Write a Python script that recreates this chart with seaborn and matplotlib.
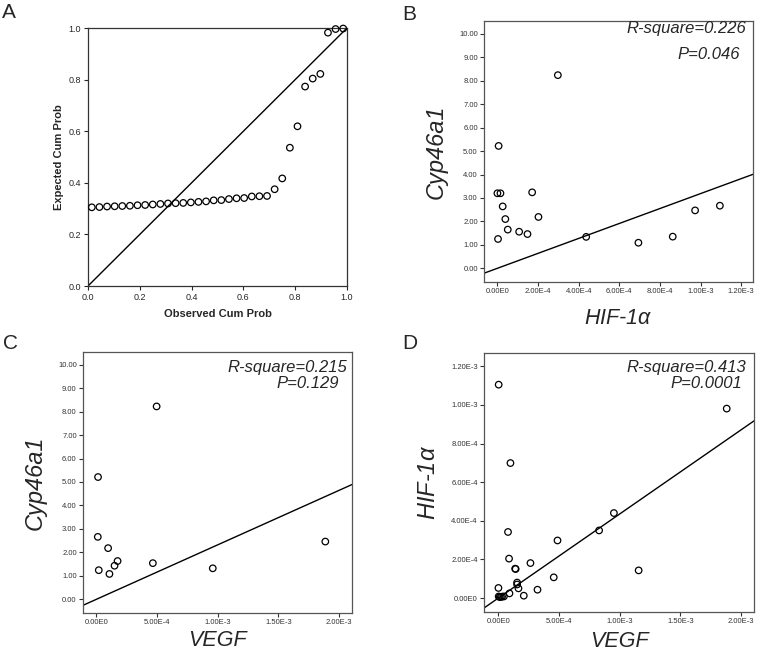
import numpy as np
import matplotlib
matplotlib.use("Agg")
import matplotlib.pyplot as plt
import seaborn as sns

sns.set_style("white")
plt.rcParams["font.family"] = ["Liberation Sans", "DejaVu Sans"]
plt.rcParams["mathtext.fontset"] = "custom"
plt.rcParams["mathtext.it"] = "Liberation Sans:italic"

# ---------------------------------------------------------------- data
# A: P-P plot
pp_expected = [0.305, 0.306, 0.308, 0.309, 0.310, 0.311, 0.313, 0.314, 0.316, 0.318,
               0.320, 0.321, 0.322, 0.324, 0.326, 0.328, 0.332, 0.333, 0.337, 0.340,
               0.341, 0.347, 0.348, 0.349, 0.375, 0.417, 0.536, 0.619, 0.773, 0.804,
               0.822, 0.982, 0.996, 0.998]
pp_observed = (np.arange(len(pp_expected)) + 0.5) / len(pp_expected)

# B: HIF-1a vs Cyp46a1
b_hif = [2.975e-4, 0.06e-4, 0.0, 0.15e-4, 1.71e-4, 0.26e-4, 0.39e-4, 2.02e-4, 0.51e-4,
         1.07e-4, 1.48e-4, 0.03e-4, 4.37e-4, 6.94e-4, 8.63e-4, 9.73e-4, 10.95e-4]
b_cyp = [8.24, 5.22, 3.20, 3.20, 3.24, 2.64, 2.10, 2.19, 1.65,
         1.56, 1.46, 1.25, 1.34, 1.09, 1.35, 2.47, 2.67]

# C: VEGF vs Cyp46a1
c_vegf = [0.13e-4, 0.11e-4, 0.96e-4, 0.19e-4, 1.07e-4, 1.49e-4, 1.74e-4, 4.65e-4,
          9.59e-4, 4.96e-4, 18.87e-4]
c_cyp = [5.21, 2.66, 2.18, 1.24, 1.08, 1.43, 1.63, 1.54, 1.32, 8.22, 2.46]

# D: VEGF vs HIF-1a
d_vegf = [0.02e-4, 18.82e-4, 0.99e-4, 9.52e-4, 0.79e-4, 8.30e-4, 4.87e-4, 0.875e-4,
          1.38e-4, 1.42e-4, 2.64e-4, 11.56e-4, 4.56e-4, 1.54e-4, 1.54e-4, 1.65e-4,
          3.22e-4, 0.0, 0.91e-4, 2.09e-4, 0.02e-4, 0.10e-4, 0.20e-4, 0.30e-4, 0.45e-4]
d_hif = [11.05e-4, 9.81e-4, 6.99e-4, 4.40e-4, 3.42e-4, 3.50e-4, 2.98e-4, 2.04e-4,
         1.52e-4, 1.50e-4, 1.81e-4, 1.43e-4, 1.07e-4, 0.80e-4, 0.70e-4, 0.50e-4,
         0.43e-4, 0.52e-4, 0.24e-4, 0.12e-4, 0.08e-4, 0.05e-4, 0.06e-4, 0.07e-4, 0.08e-4]

stats_b = ["R-square=0.226", "P=0.046"]
stats_c = ["R-square=0.215", "P=0.129"]
stats_d = ["R-square=0.413", "P=0.0001"]

cyp_ticks = list(range(0, 11))
cyp_labels = ["%.2f" % v for v in cyp_ticks]
hif_ticks = [0, 2e-4, 4e-4, 6e-4, 8e-4, 1e-3, 1.2e-3]
hif_labels = ["0.00E0", "2.00E-4", "4.00E-4", "6.00E-4", "8.00E-4", "1.00E-3", "1.20E-3"]
vegf_ticks = [0, 5e-4, 1e-3, 1.5e-3, 2e-3]
vegf_labels = ["0.00E0", "5.00E-4", "1.00E-3", "1.50E-3", "2.00E-3"]
pp_ticks = [0, 0.2, 0.4, 0.6, 0.8, 1.0]
pp_labels = ["0.0", "0.2", "0.4", "0.6", "0.8", "1.0"]

# ---------------------------------------------------------------- figure
W, H = 757, 654
fig = plt.figure(figsize=(W / 100, H / 100), dpi=100)


def box(l, r, t, b):
    return [l / W, 1 - b / H, (r - l) / W, (b - t) / H]


def open_dots(ax, x, y, **kw):
    sns.scatterplot(x=x, y=y, ax=ax, marker="o", s=22, facecolor="none",
                    edgecolor="black", linewidth=0.9, **kw)


def fit_panel(ax, x, y, xlim, ylim, xt, xl, yt, yl, xlabel, ylabel, stats, spos, xpad):
    x = np.array(x)
    y = np.array(y)
    open_dots(ax, x, y)
    ax.set_xlim(xlim)
    ax.set_ylim(ylim)
    # SPSS fit line through origin
    slope = np.dot(x, y) / np.dot(x, x)
    xx = np.array(xlim)
    sns.lineplot(x=xx, y=slope * xx, ax=ax, color="black", linewidth=1)
    ax.set_xticks(xt)
    ax.set_xticklabels(xl)
    ax.set_yticks(yt)
    ax.set_yticklabels(yl)
    ax.tick_params(axis="both", direction="out", length=3, width=0.8,
                   labelsize=5.5, pad=1.5, colors="#333333", left=True, bottom=True)
    for sp in ax.spines.values():
        sp.set_color("#555555")
        sp.set_linewidth(0.9)
    ax.set_xlabel(xlabel, fontsize=15.5, style="italic", labelpad=xpad)
    ax.set_ylabel(ylabel, fontsize=17, style="italic", labelpad=8)
    ax.text(spos[0], spos[1], stats[0], transform=ax.transAxes, ha="right",
            va="center", fontsize=12, style="italic")
    ax.text(spos[2], spos[3], stats[1], transform=ax.transAxes, ha="right",
            va="center", fontsize=12, style="italic")


# A
axA = fig.add_axes(box(88, 347, 28, 286))
sns.scatterplot(x=pp_observed, y=pp_expected, ax=axA, marker="o", s=22,
                facecolor="none", edgecolor="black", linewidth=0.9, clip_on=False, zorder=3)
lim = [0, 1]
sns.lineplot(x=lim, y=lim, ax=axA, color="black", linewidth=1)
axA.set_xlim(lim)
axA.set_ylim(lim)
axA.set_xticks(pp_ticks)
axA.set_xticklabels(pp_labels)
axA.set_yticks(pp_ticks)
axA.set_yticklabels(pp_labels)
axA.tick_params(axis="both", direction="out", length=3, width=0.8, labelsize=6.5,
                pad=2, left=True, bottom=True)
for sp in axA.spines.values():
    sp.set_color("#333333")
    sp.set_linewidth(0.9)
axA.set_xlabel("Observed Cum Prob", fontsize=8, fontweight="bold", labelpad=5)
axA.set_ylabel("Expected Cum Prob", fontsize=8, fontweight="bold", labelpad=3)

# B
axB = fig.add_axes(box(484, 753, 21, 282))
fit_panel(axB, b_hif, b_cyp, (-0.66e-4, 12.58e-4), (-0.585, 10.55),
          hif_ticks, hif_labels, cyp_ticks, cyp_labels,
          "HIF-1$\\alpha$", "Cyp46a1", stats_b, (0.975, 0.97, 0.953, 0.87), 9)

# C
axC = fig.add_axes(box(83, 352, 352, 613))
fit_panel(axC, c_vegf, c_cyp, (-1.11e-4, 21.07e-4), (-0.585, 10.54),
          vegf_ticks, vegf_labels, cyp_ticks, cyp_labels,
          "VEGF", "Cyp46a1", stats_c, (0.982, 0.939, 0.953, 0.881), 3)

# D
axD = fig.add_axes(box(484, 754, 353, 612))
fit_panel(axD, d_vegf, d_hif, (-1.19e-4, 21.07e-4), (-0.725e-4, 12.69e-4),
          vegf_ticks, vegf_labels, hif_ticks, hif_labels,
          "VEGF", "HIF-1$\\alpha$", stats_d, (0.973, 0.943, 0.958, 0.882), 4)

# panel letters
for lab, (px, py) in zip("ABCD", [(2, 3), (402, 5), (3, 334), (402, 334)]):
    fig.text(px / W, 1 - py / H, lab, fontsize=15, ha="left", va="top")

fig.savefig("out.png", dpi=100)
